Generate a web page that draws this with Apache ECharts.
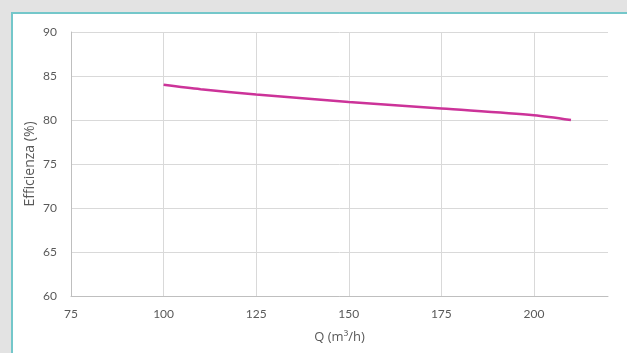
<!DOCTYPE html>
<html>
<head>
<meta charset="utf-8">
<script src="https://cdn.jsdelivr.net/npm/echarts@6/dist/echarts.min.js"></script>
<style>
    html, body { margin: 0; padding: 0; background: #e3e3e3; overflow: hidden; }
    .panel {
        position: absolute;
        left: 11px;
        top: 12px;
        width: 700px;
        height: 400px;
        background: #fff;
        border-top: 2px solid #74c7ca;
        border-left: 2px solid #74c7ca;
    }
    #chart { position: absolute; left: 0; top: 0; width: 627px; height: 353px; }
</style>
</head>
<body>
<div class="panel"></div>
<div id="chart"></div>
<script>
    // portata (m3/h) e rendimento (%)
    const portata = [100, 110, 125, 150, 175, 200, 210];
    const efficienza = [84.0, 83.5, 82.9, 82.05, 81.3, 80.55, 80.0];
    const xTicks = [75, 100, 125, 150, 175, 200];
    const yTicks = [60, 65, 70, 75, 80, 85, 90];

    const fontFam = 'Lato, "Open Sans", sans-serif';
    const titleFont = '"Open Sans", Lato, sans-serif';
    const chart = echarts.init(document.getElementById('chart'), null, { renderer: 'canvas' });
    chart.setOption({
        animation: false,
        grid: { left: 71, top: 32, right: 19, bottom: 57 },
        xAxis: {
            type: 'value',
            min: xTicks[0],
            max: 220,
            interval: 25,
            name: 'Q (m³/h)',
            nameLocation: 'middle',
            nameGap: 35,
            nameMoveOverlap: false,
            nameTextStyle: { color: '#595959', fontSize: 13, fontFamily: titleFont },
            axisLine: { show: true, lineStyle: { color: '#bfbfbf', width: 1 } },
            axisTick: { show: false },
            axisLabel: {
                color: '#595959', fontSize: 12, fontFamily: fontFam, margin: 12,
                showMaxLabel: false
            },
            splitLine: { show: true, showMaxLine: false, lineStyle: { color: '#d9d9d9', width: 1 } }
        },
        yAxis: {
            type: 'value',
            min: yTicks[0],
            max: yTicks[yTicks.length - 1],
            interval: 5,
            name: 'Efficienza (%)',
            nameLocation: 'middle',
            nameGap: 34,
            nameMoveOverlap: false,
            nameTextStyle: { color: '#595959', fontSize: 14, fontFamily: titleFont },
            axisLine: { show: true, lineStyle: { color: '#bfbfbf', width: 1 } },
            axisTick: { show: false },
            axisLabel: { color: '#595959', fontSize: 12, fontFamily: fontFam, margin: 14 },
            splitLine: { show: true, lineStyle: { color: '#d9d9d9', width: 1 } }
        },
        series: [{
            type: 'line',
            data: portata.map((q, i) => [q, efficienza[i]]),
            smooth: 0.3,
            showSymbol: false,
            lineStyle: { color: '#cc3399', width: 2.5 }
        }]
    });
</script>
</body>
</html>
